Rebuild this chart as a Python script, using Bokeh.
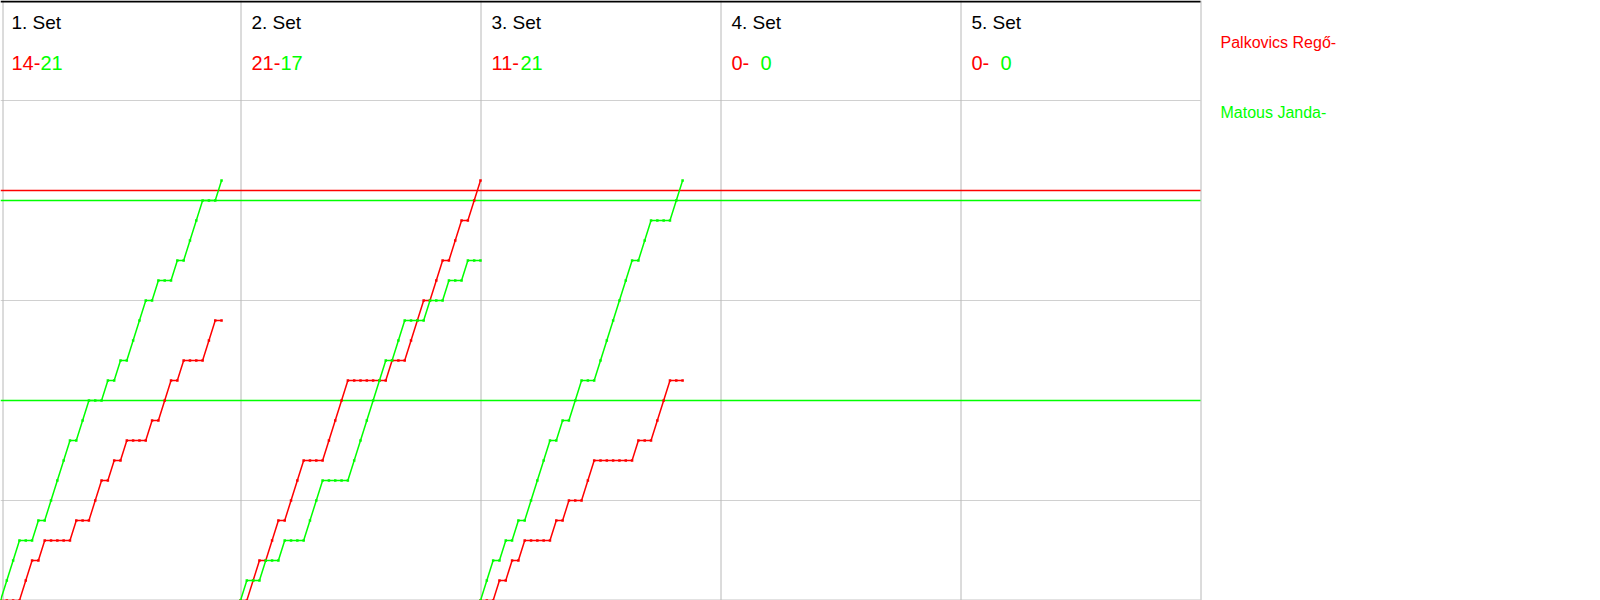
from bokeh.plotting import figure
from bokeh.models import Range1d
from bokeh.embed import file_html
from bokeh.resources import INLINE
from bokeh.core.properties import value

# ---------------- data ----------------
set_titles = ["1. Set", "2. Set", "3. Set", "4. Set", "5. Set"]
player_names = ["Palkovics Regő", "Matous Janda"]
player_colors = ["#ff0000", "#00ff00"]
# rally winners per set: R = Palkovics Regő (red), G = Matous Janda (green)
set1_rallies = "GGG RR G R GGGG R GG RR G R G R GGG R G RR G R GGG RR G"
set2_rallies = "G RR G RR G RRR GGG RRRR GGGGGG R GG RRR G RR G RR G RR"
set3_rallies = "GG R G R G R GGGG R G R GG RR GGGGGG R GG RRR GG"
set4_rallies = ""
set5_rallies = ""
red_guides = [20.5]
green_guides = [10, 20]
grid_scores = [5, 15, 25]

# ---------------- layout ----------------
FONT = "Liberation Sans"
COL_PX = 240
RALLIES_PER_COL = 38
PX = COL_PX / RALLIES_PER_COL      # px per rally
PT = 20                            # px per point
W, H = 1600, 600
Y_TOP = 25 + 100 / PT
X_END = W / PX
N_COLS = len(set_titles)
X_RIGHT = N_COLS * RALLIES_PER_COL


def ys(page_y):
    return (H - page_y) / PT


def xs_px(px):
    return px / PX


p = figure(width=W, height=H, output_backend="svg", toolbar_location=None,
           x_range=Range1d(0, X_END), y_range=Range1d(0, Y_TOP),
           x_axis_type=None, y_axis_type=None, min_border=0,
           outline_line_color=None, background_fill_color="white",
           border_fill_color="white")
p.xgrid.visible = False
p.ygrid.visible = False

# horizontal grid
hx0 = [0] * (len(grid_scores) + 1)
hx1 = [X_RIGHT] * (len(grid_scores) + 1)
hy = grid_scores + [0.03]
p.segment(x0=hx0, y0=hy, x1=hx1, y1=hy, line_color="#d0d0d0", line_width=1)

# vertical column separators
vx = [xs_px(2.5)] + [RALLIES_PER_COL * k + xs_px(0.5) for k in range(1, N_COLS + 1)]
p.segment(x0=vx, y0=[0] * len(vx), x1=vx, y1=[Y_TOP] * len(vx),
          line_color="#b8b8b8", line_width=1)

# top border
p.segment(x0=[0], y0=[Y_TOP - 0.05], x1=[X_RIGHT], y1=[Y_TOP - 0.05],
          line_color="black", line_width=2)

# guide lines
p.segment(x0=[0] * len(red_guides), y0=red_guides, x1=[X_RIGHT] * len(red_guides),
          y1=red_guides, line_color=player_colors[0], line_width=1.3)
p.segment(x0=[0] * len(green_guides), y0=green_guides, x1=[X_RIGHT] * len(green_guides),
          y1=green_guides, line_color=player_colors[1], line_width=1.3)

sets = [set1_rallies, set2_rallies, set3_rallies, set4_rallies, set5_rallies]
final_scores = []
for k, seq in enumerate(sets):
    seq = seq.replace(" ", "")
    r = g = 0
    x0 = RALLIES_PER_COL * k
    xs = [x0]
    rs = [0]
    gs = [0]
    for i, c in enumerate(seq, 1):
        if c == "R":
            r += 1
        else:
            g += 1
        xs.append(x0 + i)
        rs.append(r)
        gs.append(g)
    final_scores.append((r, g))
    if seq:
        for sc, col in ((rs, player_colors[0]), (gs, player_colors[1])):
            p.line(xs, sc, line_color=col, line_width=1.5)
            p.scatter(xs, sc, marker="square", size=2.5, fill_color=col,
                      line_color=None)

# headers
col_x = [RALLIES_PER_COL * k for k in range(N_COLS)]
p.text(x=[c + xs_px(11) for c in col_x], y=[ys(21.7)] * N_COLS, text=set_titles,
       text_font=value(FONT), text_font_size="19px", text_color="black",
       text_align="left", text_baseline="alphabetic")
p.text(x=[c + xs_px(11) for c in col_x], y=[ys(62.7)] * N_COLS,
       text=[f"{r}-" for r, g in final_scores],
       text_font=value(FONT), text_font_size="20px", text_color=player_colors[0],
       text_align="left", text_baseline="alphabetic")
p.text(x=[c + xs_px(40) for c in col_x], y=[ys(62.7)] * N_COLS,
       text=[f"{g}" for r, g in final_scores],
       text_font=value(FONT), text_font_size="20px", text_color=player_colors[1],
       text_align="left", text_baseline="alphabetic")

# legend
p.text(x=[xs_px(1220)] * 2, y=[ys(42), ys(112)],
       text=[n + "-" for n in player_names],
       text_font=value(FONT), text_font_size="16px", text_color=player_colors,
       text_align="left", text_baseline="alphabetic")

open("out.html", "w").write(file_html(p, INLINE))
